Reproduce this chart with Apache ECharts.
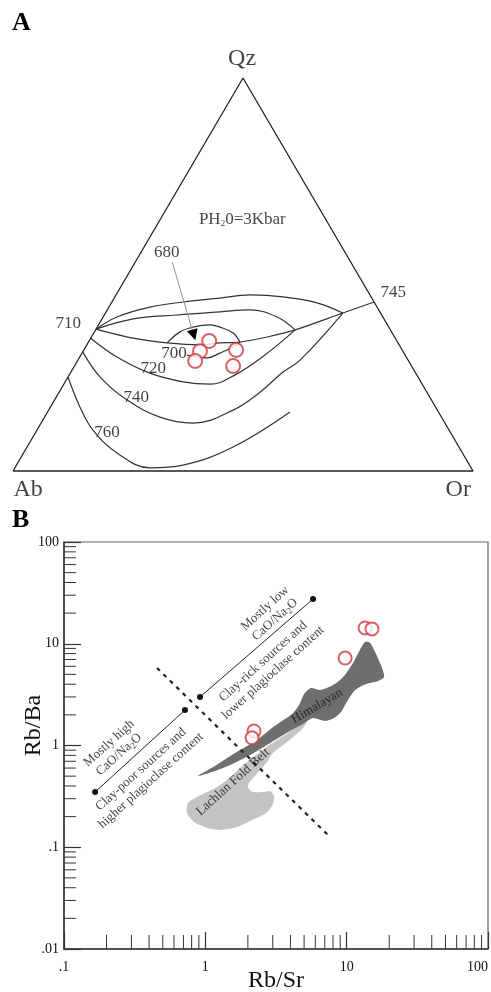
<!DOCTYPE html>
<html><head><meta charset="utf-8">
<script src="https://cdn.jsdelivr.net/npm/echarts@6/dist/echarts.min.js"></script>
<style>html,body{margin:0;padding:0;background:#fff}#c{width:491px;height:992px}</style>
</head><body><div id="c"></div>
<script>
// ================= Panel A: Qz-Ab-Or ternary, points stored as [Or, Qz] (Ab = 100 - Or - Qz)
const triangle  = [[0,0],[100,0],[0,100],[0,0]];
const cotectic  = [[0,36.1],[9.2,33.8],[17.2,32.6],[24.6,32.1],[28.7,32.6],[32.9,32.8],[38.2,34.1],[43.4,35.9],[51.6,40.2],[57.0,43.0]];
const curveTop  = [[0,36.1],[3.0,39.2],[8.9,41.7],[15.5,43.0],[23.0,44.0],[29.1,44.8],[36.6,44.3],[44.7,42.8],[51.6,40.2]];
const curve2    = [[0,36.1],[6.8,38.7],[15.8,39.7],[24.8,40.5],[31.0,41.0],[37.8,39.2],[43.4,35.9]];
const iso680    = [[17.2,32.6],[18.6,35.4],[20.8,36.6],[24.3,37.2],[26.7,36.6],[30.3,35.1],[32.9,32.8]];
const iso700    = [[23.1,29.5],[27.8,28.8],[30.0,30.0],[32.1,31.6],[32.9,32.8]];
const iso720    = [[0,33.8],[8.1,29.0],[17.3,24.9],[25.6,22.7],[31.8,22.1],[36.0,24.4],[40.0,29.5],[43.4,35.9]];
const iso740    = [[0,30.3],[7.0,23.9],[15.7,18.1],[25.1,13.7],[33.0,12.2],[40.1,15.5],[43.7,20.1],[46.1,25.2],[48.3,28.2],[51.6,40.2]];
const iso760    = [[0,23.9],[6.4,16.3],[12.2,10.4],[20.3,4.6],[29.4,0.8],[36.2,1.5],[44.8,6.1],[52.7,15.0]];
const samplesA  = [[26.1,33.1],[25.4,30.5],[25.6,28.0],[33.1,30.8],[34.5,26.7]];
const arrow680  = [[8.0,53.2],[22.0,34.6]];
const isoLabelText = ['710','745','680','700','720','740','760','PH{s|2}0=3Kbar'];
const isoLabelAt   = [[-6.7,37.4],[60.0,45.3],[5.7,55.5],[20.1,29.8],[17.5,26.0],[17.5,18.6],[15.6,9.7],[17.9,63.9]];
const vertexText   = ['Qz','Ab','Or'];
const vertexAt     = [[-2.6,104.8],[5.7,-4.8],[99.2,-4.8]];

// ================= Panel B: Rb/Ba vs Rb/Sr (log-log)
const rbSr = [13.5, 15.1, 9.75, 2.21, 2.14];
const rbBa = [14.3, 14.0, 7.24, 1.39, 1.19];
const clayPoorLine = [[0.166,0.349],[0.718,2.23]];
const clayRichLine = [[0.917,3.0],[5.78,27.5]];
const dividerLine  = [[0.455,5.78],[7.50,0.129]];
const himalayan = [[0.887,0.501],[1.17,0.630],[1.62,0.843],[2.07,1.03],[2.52,1.24],[2.96,1.49],[3.49,1.74],[4.11,2.04],[4.60,2.50],[5.00,3.21],[5.60,3.67],[6.48,3.51],[8.01,3.93],[9.44,4.71],[11.1,6.47],[12.4,8.68],[13.5,10.4],[14.6,10.2],[15.9,8.30],[17.8,5.78],[18.4,4.71],
  [16.7,4.31],[13.7,4.02],[11.5,3.51],[10.2,2.80],[9.12,2.13],[8.15,1.86],[7.03,1.74],[5.78,1.86],[4.91,1.63],[3.97,1.39],[3.11,1.13],[2.52,0.944],[2.01,0.789],[1.55,0.658],[1.17,0.561]];
const lachlan = [[5.25,1.70],[4.83,1.45],[4.18,1.21],[3.55,1.01],[3.01,0.843],[2.73,0.689],[2.44,0.574],[2.21,0.490],[2.04,0.428],[2.01,0.382],[2.18,0.349],[2.56,0.349],[2.87,0.357],[3.06,0.319],[3.01,0.266],[2.69,0.217],[2.14,0.185],[1.68,0.158],[1.27,0.148],[1.03,0.155],[0.832,0.177],[0.741,0.217],[0.755,0.272],[0.873,0.312],[1.03,0.349],[1.21,0.391],[1.45,0.469],[1.76,0.601],[2.14,0.753],[2.78,0.989],[3.66,1.27],[4.68,1.59]];
const noteText = ['Mostly high\nCaO/Na{s|2}O','Clay-poor sources and\nhigher plagioclase content','Clay-rick sources and\nlower plagioclase content','Mostly low\nCaO/Na{s|2}O','Himalayan','Lachlan Fold Belt'];
const noteAt   = [[0.226,0.925],[0.380,0.513],[2.78,5.90],[2.87,19.6],[6.17,2.44],[1.57,0.438]];
const noteRotate = [42,42,42,42,31,42];
const xMinorTicks = [0.2,0.3,0.4,0.5,0.6,0.7,0.8,0.9,2,3,4,5,6,7,8,9,20,30,40,50,60,70,80,90];
const yMinorTicks = [0.02,0.03,0.04,0.05,0.06,0.07,0.08,0.09,0.2,0.3,0.4,0.5,0.6,0.7,0.8,0.9,2,3,4,5,6,7,8,9,20,30,40,50,60,70,80,90];
const logTickLabel = {'0.01':'.01','0.1':'.1','1':'1','10':'10','100':'100'};

// ---------------- build
const SERIF = '"Liberation Serif","DejaVu Serif",serif';
const INK = '#111';
const tern = p => [p[0] + p[1] / 2, p[1]];
const curveStyle = {color:'#333', width:1.2};
function tCurve(arr, smooth){
  return {type:'line', xAxisIndex:0, yAxisIndex:0, data: arr.map(tern), symbol:'none', smooth: smooth,
    lineStyle: curveStyle, silent:true, clip:false, z:2};
}
const subRich = {s:{fontSize:9, fontFamily:SERIF, color:INK, padding:[7,0,0,0]}};
function textSeries(texts, ats, grid, fontSize, rotates){
  return {type:'scatter', xAxisIndex:grid, yAxisIndex:grid, symbolSize:1, clip:false, silent:true, z:10,
    itemStyle:{color:'rgba(0,0,0,0)'},
    data: ats.map((p,i)=>({value: grid===0 ? tern(p) : p, name: texts[i],
      label:{rotate: rotates ? rotates[i] : 0}})),
    label:{show:true, position:'inside', formatter: d => d.name, color:INK,
      fontFamily:SERIF, fontSize:fontSize, lineHeight:15, align:'center', rich: subRich}
  };
}
function polySeries(points, color, z){
  return {type:'custom', xAxisIndex:1, yAxisIndex:1, data: points, silent:true, clip:false, z:z,
    renderItem: (params, api) => {
      if (params.dataIndex !== 0) return null;
      return {type:'polygon', shape:{points: points.map(p => api.coord(p)), smooth:0.25},
        style:{fill: color}};
    }};
}
function tickSeries(vals, axis, len){
  return {type:'custom', xAxisIndex:1, yAxisIndex:1, silent:true, clip:false, z:3,
    data: vals.map(v => axis==='x' ? [v, 0.01] : [0.1, v]),
    renderItem: (params, api) => {
      const c = api.coord([api.value(0), api.value(1)]);
      const shape = axis==='x' ? {x1:c[0], y1:c[1], x2:c[0], y2:c[1]-len} : {x1:c[0], y1:c[1], x2:c[0]+len, y2:c[1]};
      return {type:'line', shape: shape, style:{stroke:'#333', lineWidth:1}};
    }};
}
const fmtLog = v => logTickLabel[String(+(+v).toPrecision(3))] || '';

const chart = echarts.init(document.getElementById('c'));
chart.setOption({
  animation:false,
  backgroundColor:'#fff',
  graphic:[
    {type:'text', left:12, top:10, style:{text:'A', font:'bold 26px ' + SERIF, fill:'#000'}},
    {type:'text', left:12, top:507, style:{text:'B', font:'bold 26px ' + SERIF, fill:'#000'}}
  ],
  grid:[
    {left:13, width:460, top:78, height:393, show:false, containLabel:false, outerBoundsMode:'none'},
    {left:64, right:3, top:542, bottom:43, show:true, borderColor:'#666', borderWidth:1.2, containLabel:false, outerBoundsMode:'none'}
  ],
  xAxis:[
    {gridIndex:0, type:'value', min:0, max:100, show:false},
    {gridIndex:1, type:'log', logBase:10, min:0.1, max:100,
      axisLine:{lineStyle:{color:'#333', width:1.5}},
      axisTick:{inside:true, length:17, lineStyle:{color:'#333', width:1.2}},
      axisLabel:{formatter: fmtLog, fontFamily:SERIF, fontSize:14, color:INK, margin:11, alignMaxLabel:'right'},
      splitLine:{show:false}, minorTick:{show:false},
      name:'Rb/Sr', nameLocation:'middle', nameGap:20, nameMoveOverlap:false, nameTextStyle:{fontFamily:SERIF, fontSize:24, color:INK}}
  ],
  yAxis:[
    {gridIndex:0, type:'value', min:0, max:100, show:false},
    {gridIndex:1, type:'log', logBase:10, min:0.01, max:100,
      axisLine:{lineStyle:{color:'#333', width:1.5}},
      axisTick:{inside:true, length:17, lineStyle:{color:'#333', width:1.2}},
      axisLabel:{formatter: fmtLog, fontFamily:SERIF, fontSize:14, color:INK, margin:5},
      splitLine:{show:false}, minorTick:{show:false},
      name:'Rb/Ba', nameLocation:'middle', nameGap:18, nameRotate:90, nameMoveOverlap:false,
      nameTextStyle:{fontFamily:SERIF, fontSize:24, color:INK, padding:[0,0,0,40]}}
  ],
  series:[
    // ----- panel A
    {type:'line', xAxisIndex:0, yAxisIndex:0, data: triangle.map(tern), symbol:'none', lineStyle:{color:'#222', width:1.3}, silent:true, clip:false, z:2},
    tCurve(cotectic, 0.3), tCurve(curveTop, 0.4), tCurve(curve2, 0.4), tCurve(iso680, 0.4),
    tCurve(iso700, 0.4), tCurve(iso720, 0.4), tCurve(iso740, 0.4), tCurve(iso760, 0.4),
    {type:'lines', coordinateSystem:'cartesian2d', xAxisIndex:0, yAxisIndex:0, silent:true, z:3,
      data:[{coords: arrow680.map(tern)}], lineStyle:{color:'#888', width:0.9, opacity:1}, symbol:['none','none']},
    {type:'lines', coordinateSystem:'cartesian2d', xAxisIndex:0, yAxisIndex:0, silent:true, z:4,
      data:[{coords: arrow680.map(tern)}], lineStyle:{color:'#000', width:0.01, opacity:1}, symbol:['none','triangle'], symbolSize:[8,11]},
    {type:'scatter', xAxisIndex:0, yAxisIndex:0, data: samplesA.map(tern), symbol:'emptyCircle', symbolSize:14,
      itemStyle:{color:'#d03a40', borderColor:'#d03a40', borderWidth:1.3}, silent:true, z:6},
    textSeries(isoLabelText, isoLabelAt, 0, 17, null),
    textSeries(vertexText, vertexAt, 0, 24, null),
    // ----- panel B
    polySeries(lachlan, '#c4c4c4', 2),
    polySeries(himalayan, '#6e6e6e', 3),
    tickSeries(xMinorTicks, 'x', 14),
    tickSeries(yMinorTicks, 'y', 12),
    {type:'line', xAxisIndex:1, yAxisIndex:1, data: dividerLine, symbol:'none', lineStyle:{color:'#222', width:2.2, type:[4,5]}, silent:true, z:4},
    {type:'line', xAxisIndex:1, yAxisIndex:1, data: clayPoorLine, symbol:'circle', symbolSize:6, showSymbol:true, itemStyle:{color:'#111'}, lineStyle:{color:'#222', width:1}, silent:true, z:4},
    {type:'line', xAxisIndex:1, yAxisIndex:1, data: clayRichLine, symbol:'circle', symbolSize:6, showSymbol:true, itemStyle:{color:'#111'}, lineStyle:{color:'#222', width:1}, silent:true, z:4},
    {type:'scatter', xAxisIndex:1, yAxisIndex:1, data: rbSr.map((x,i)=>[x, rbBa[i]]), symbol:'emptyCircle', symbolSize:13,
      itemStyle:{color:'#d03a40', borderColor:'#d03a40', borderWidth:1.2}, silent:true, z:6},
    textSeries(noteText, noteAt, 1, 13, noteRotate)
  ]
});
</script></body></html>
